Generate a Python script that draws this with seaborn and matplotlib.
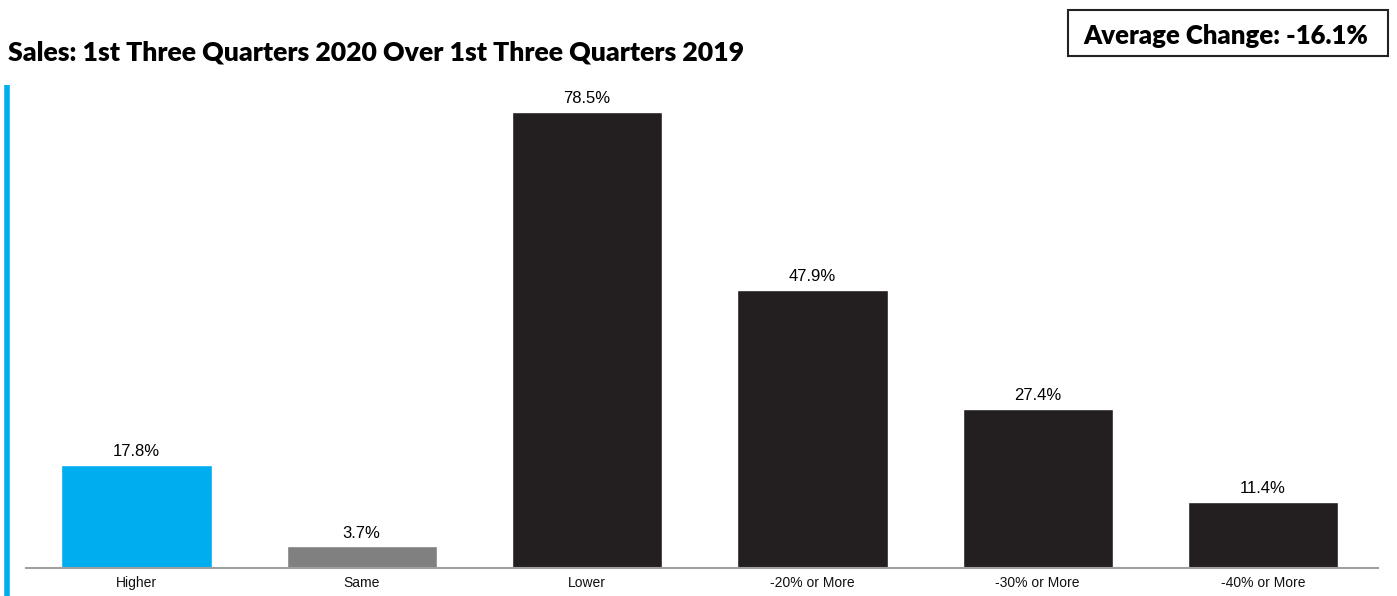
import matplotlib
matplotlib.use("Agg")
import matplotlib.pyplot as plt
import seaborn as sns
import pandas as pd

categories = ["Higher", "Same", "Lower", "-20% or More", "-30% or More", "-40% or More"]
values = [17.8, 3.7, 78.5, 47.9, 27.4, 11.4]
value_labels = ["17.8%", "3.7%", "78.5%", "47.9%", "27.4%", "11.4%"]
colors = ["#00AEEF", "#808080", "#231F20", "#231F20", "#231F20", "#231F20"]
title = "Sales: 1st Three Quarters 2020 Over 1st Three Quarters 2019"
avg_text = "Average Change: -16.1%"

sns.set_theme(style="white")
plt.rcParams['font.family'] = ['Liberation Sans', 'DejaVu Sans']

df = pd.DataFrame({"cat": categories, "val": values})

fig = plt.figure(figsize=(13.97, 5.96), dpi=100)
ax = fig.add_axes([26/1397, 28/596, (1378-26)/1397, (568-85)/596])

sns.barplot(data=df, x="cat", y="val", hue="cat", palette=colors, legend=False,
            width=0.667, ax=ax, saturation=1)

ax.set_xlim(-0.49, 5.51)
ax.set_ylim(0, 83.1)
for sp in ["top", "right", "left"]:
    ax.spines[sp].set_visible(False)
ax.spines["bottom"].set_color("#A0A0A0")
ax.spines["bottom"].set_linewidth(1.5)
ax.set_yticks([])
ax.set_xlabel("")
ax.set_ylabel("")
ax.tick_params(axis="x", length=0, pad=5.5, labelsize=10, colors="#111111")

for i, (v, lab) in enumerate(zip(values, value_labels)):
    ax.annotate(lab, (i, v), xytext=(0, 4), textcoords="offset points",
                ha="center", va="bottom", fontsize=12, color="#000000")

fig.text(8/1397, 1 - 53/596, title, ha="left", va="center", color="#000000",
         fontsize=19.2, fontweight="heavy", family=["Lato", "DejaVu Sans"])

fig.text(1226/1397, 1 - 36/596, avg_text, ha="center", va="center", color="#000000",
         fontsize=18.5, fontweight="heavy", family=["Lato", "DejaVu Sans"])
box = plt.Rectangle((1068/1397, 1 - 56/596), 320/1397, 46/596, transform=fig.transFigure,
                    fill=False, edgecolor="#222222", linewidth=1.5)
fig.add_artist(box)

line = plt.Line2D([7/1397, 7/1397], [0, 1 - 85/596], transform=fig.transFigure,
                  color="#00AEEF", linewidth=4, solid_capstyle="butt")
fig.add_artist(line)

fig.savefig("out.png", dpi=100, facecolor="white")
